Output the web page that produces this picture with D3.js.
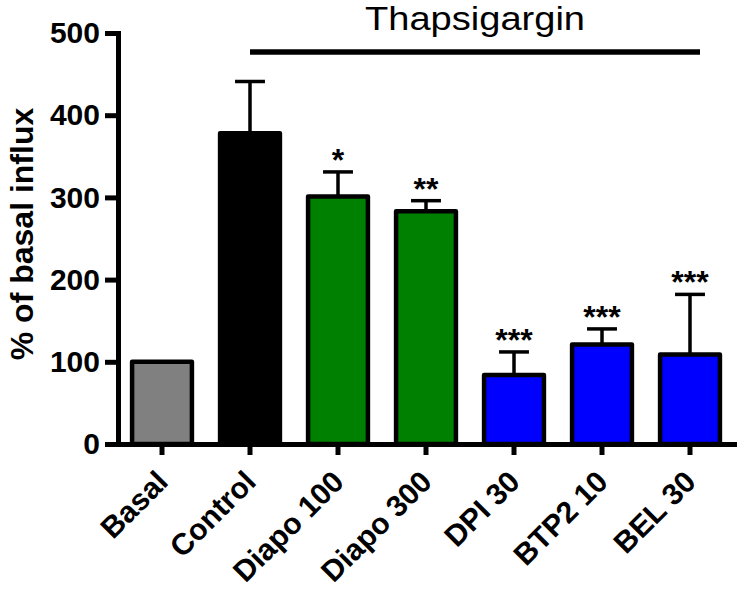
<!DOCTYPE html>
<html>
<head>
<meta charset="utf-8">
<script src="https://cdn.jsdelivr.net/npm/d3@7"></script>
<style>
  body { margin: 0; background: #fff; }
  svg { font-family: "Liberation Sans", Arial, sans-serif; }
</style>
</head>
<body>
<svg id="chart" width="746" height="591"></svg>
<script>
const groups = ["Basal", "Control", "Diapo 100", "Diapo 300", "DPI 30", "BTP2 10", "BEL 30"];
const means = [100, 378, 301, 283, 84, 121, 109];
const errors = [0, 63, 30, 13, 28, 19, 73];
const stars = ["", "", "*", "**", "***", "***", "***"];
const fills = ["#808080", "#000000", "#008000", "#008000", "#0000ff", "#0000ff", "#0000ff"];
const yTicks = [0, 100, 200, 300, 400, 500];

const svg = d3.select("#chart");

const x = d3.scaleBand()
	.domain(groups)
	.range([118, 734])
	.paddingInner(0.32)
	.paddingOuter(0.16);

const y = d3.scaleLinear().domain([0, 500]).range([444, 33]);

// bars
const bars = svg.append("g")
	.selectAll("g")
	.data(groups)
	.enter()
	.append("g");

bars.append("rect")
	.attr("x", (d) => x(d))
	.attr("width", x.bandwidth())
	.attr("y", (d, i) => y(means[i]))
	.attr("height", (d, i) => y(0) - y(means[i]))
	.attr("fill", (d, i) => fills[i])
	.attr("stroke", "#000")
	.attr("stroke-width", 4.5)
	.attr("stroke-linejoin", "round");

// error bars, upper side only
const errs = bars.filter((d, i) => errors[i] > 0);

errs.append("line")
	.attr("x1", (d) => x(d) + x.bandwidth() / 2)
	.attr("x2", (d) => x(d) + x.bandwidth() / 2)
	.attr("y1", (d) => y(means[groups.indexOf(d)]))
	.attr("y2", (d) => { const i = groups.indexOf(d); return y(means[i] + errors[i]); })
	.attr("stroke", "#000")
	.attr("stroke-width", 3.5);

errs.append("line")
	.attr("x1", (d) => x(d) + x.bandwidth() / 4)
	.attr("x2", (d) => x(d) + x.bandwidth() * 3 / 4)
	.attr("y1", (d) => { const i = groups.indexOf(d); return y(means[i] + errors[i]); })
	.attr("y2", (d) => { const i = groups.indexOf(d); return y(means[i] + errors[i]); })
	.attr("stroke", "#000")
	.attr("stroke-width", 3.5);

// significance stars
bars.append("text")
	.attr("x", (d) => x(d) + x.bandwidth() / 2)
	.attr("y", (d, i) => y(means[i] + errors[i]) - 1)
	.attr("text-anchor", "middle")
	.attr("font-size", 32)
	.attr("font-weight", "bold")
	.text((d, i) => stars[i]);

// y axis
const yAxis = svg.append("g")
	.attr("transform", "translate(118,0)")
	.call(d3.axisLeft(y).tickValues(yTicks).tickSize(13).tickSizeOuter(0).tickPadding(5));

yAxis.select(".domain").attr("stroke-width", 5).attr("stroke-linecap", "square");
yAxis.selectAll(".tick line").attr("stroke-width", 5);
yAxis.selectAll(".tick text")
	.attr("font-size", 30)
	.attr("font-weight", "bold")
	.attr("font-family", "Liberation Sans, Arial, sans-serif")
	.attr("fill", "#000");

// x axis
const xAxis = svg.append("g")
	.attr("transform", "translate(0,444)")
	.call(d3.axisBottom(x).tickSize(11).tickSizeOuter(0));

xAxis.select(".domain").attr("stroke-width", 5).attr("stroke-linecap", "square");
xAxis.selectAll(".tick line").attr("stroke-width", 5);
xAxis.selectAll(".tick text")
	.attr("font-size", 30)
	.attr("font-weight", "bold")
	.attr("font-family", "Liberation Sans, Arial, sans-serif")
	.attr("fill", "#000")
	.attr("text-anchor", "end")
	.attr("y", 0)
	.attr("dy", "0.36em")
	.attr("transform", "translate(0,32) rotate(-45)");

// axis title
svg.append("text")
	.attr("transform", "translate(33,234) rotate(-90)")
	.attr("text-anchor", "middle")
	.attr("font-size", 32)
	.attr("font-weight", "bold")
	.text("% of basal influx");

// treatment bracket
const lineStart = x("Control") + x.bandwidth() / 2;
const lineEnd = x("BEL 30") + x.bandwidth() / 2 + 10;

svg.append("line")
	.attr("x1", lineStart)
	.attr("x2", lineEnd)
	.attr("y1", 52)
	.attr("y2", 52)
	.attr("stroke", "#000")
	.attr("stroke-width", 5.5);

svg.append("text")
	.attr("x", (lineStart + lineEnd) / 2)
	.attr("y", 30)
	.attr("text-anchor", "middle")
	.attr("font-size", 33)
	.attr("textLength", 220)
	.attr("lengthAdjust", "spacingAndGlyphs")
	.text("Thapsigargin");
</script>
</body>
</html>
